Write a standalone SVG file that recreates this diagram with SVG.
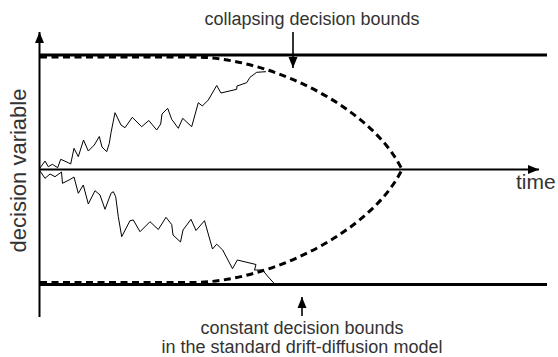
<svg xmlns="http://www.w3.org/2000/svg" width="558" height="357" viewBox="0 0 558 357">
<style>
  .lbl { font-family: "Liberation Sans", Arial, sans-serif; fill: #333; }
  .axis { stroke: #000; stroke-width: 2; fill: none; }
  .bound { stroke: #000; stroke-width: 3; fill: none; }
  .dash { stroke: #000; stroke-width: 3; fill: none; stroke-dasharray: 7 4.5; }
  .walk { stroke: #000; stroke-width: 1; fill: none; stroke-linejoin: miter; }
  .ptr { stroke: #000; stroke-width: 1.6; fill: none; }
</style>
<defs>
  <marker id="head" markerUnits="userSpaceOnUse" markerWidth="12" markerHeight="10" refX="11" refY="5" orient="auto">
    <path d="M0,0.5 L11,5 L0,9.5 Z" fill="#000"/>
  </marker>
</defs>
<rect width="558" height="357" fill="#fff"/>
<g id="axes">
  <line class="axis" x1="39.5" y1="317" x2="39.5" y2="32" marker-end="url(#head)"/>
  <line class="axis" x1="40" y1="169.5" x2="539" y2="169.5" marker-end="url(#head)"/>
</g>
<g id="constant-bounds">
  <line class="bound" x1="40" y1="55" x2="547" y2="55"/>
  <line class="bound" x1="40" y1="284.5" x2="547" y2="284.5"/>
</g>
<g id="collapsing-bounds">
  <path class="dash" d="M40,57 L195,57 C272,58 372,108 402,169.5 C372,231 272,281 195,282.5 L40,282.5"/>
</g>
<g id="walks">
  <polyline class="walk" points="40,168 45,161 48.3,166.7 52.3,164.3 57.7,167.7 60.7,159.3 68.3,162.7 70.7,164 74,148.3 78.3,156.7 83.5,140 88.3,151 94.3,145 99.3,136.5 102,147 106.7,151.7 109.3,143.3 111,132.7 115,112.7 121,125 125,127.7 132.3,117.3 141.7,126.7 148.8,120.5 156.7,130 160.7,124 162,114 167.7,108.3 171.7,119.3 178.3,128.3 182.7,118.3 191.7,126.7 198.3,102.7 202.3,106 208.3,100 216.7,85.5 221,93 236.7,89.3 237,86 246.7,82.7 250,77.3 256.7,72.3 266,71.7"/>
  <polyline class="walk" points="40,171 45,178.3 50,174 55,176.7 61.5,172 62.5,183.3 70,179.5 74,177 78.3,193.3 83.3,185 88.3,204 95,190.7 100,195 105,209.3 111,193.3 113.3,191.7 115.7,196.7 118.3,216.7 121.7,236.7 130,220.7 133.3,220 140,231.7 150,221.7 158.3,229.5 166,217.3 171.7,224.5 173,235 180.5,242 183,230 191,219.3 196,230.5 204.5,220.7 212.5,249 216.7,244.2 222.7,250 232.5,268.7 237.3,260 256,264.5 254.5,270 262.5,270 268.3,277 275,284.3"/>
</g>
<g id="label-collapsing">
  <text class="lbl" x="312" y="25" font-size="18" text-anchor="middle">collapsing decision bounds</text>
  <line class="ptr" x1="293" y1="32" x2="293" y2="68" marker-end="url(#head)"/>
</g>
<g id="label-constant">
  <line class="ptr" x1="302" y1="316" x2="302" y2="297" marker-end="url(#head)"/>
  <text class="lbl" x="302" y="334" font-size="18" text-anchor="middle">constant decision bounds</text>
  <text class="lbl" x="302" y="352.5" font-size="18" text-anchor="middle">in the standard drift-diffusion model</text>
</g>
<g id="label-time">
  <text class="lbl" x="516" y="188.5" font-size="21">time</text>
</g>
<g id="label-dv">
  <text class="lbl" x="0" y="0" font-size="22" text-anchor="middle" transform="translate(26,170.5) rotate(-90)">decision variable</text>
</g>
</svg>
